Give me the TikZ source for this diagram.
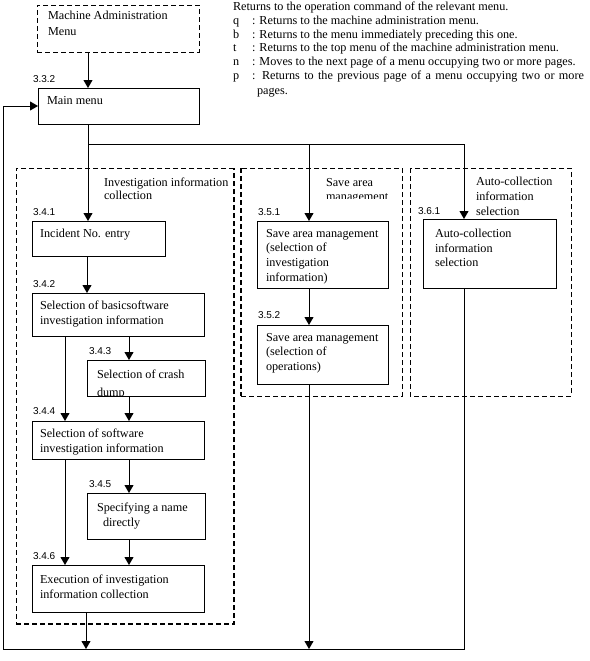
\documentclass[tikz,border=0pt]{standalone}
\usepackage{fontspec}
\setmainfont{Liberation Serif}
\newfontfamily\numfont{Liberation Sans}
\usetikzlibrary{arrows.meta}
\begin{document}
\begin{tikzpicture}[x=1pt,y=-1pt,
  every node/.style={inner sep=0pt, outer sep=0pt},
  txt/.style={anchor=north west, align=left, font=\fontsize{12.2}{14.7}\selectfont},
  lg/.style={anchor=base west, font=\fontsize{12.2}{14.7}\selectfont},
  num/.style={anchor=base west, font=\numfont\fontsize{10}{12}\selectfont},
  box/.style={draw, line width=0.9pt, anchor=north west},
  arr/.style={line width=0.9pt, -{Triangle[width=9pt,length=8pt]}},
  thindash/.style={line width=0.9pt, dash pattern=on 5pt off 3pt},
  thickdash/.style={line width=2pt, dash pattern=on 5pt off 3pt},
]
\useasboundingbox (0,0) rectangle (589,661);

% ---------- legend ----------
\node[lg] (lg0) at (233,11) {Returns to the operation command of the relevant menu.};
\node[lg] (lq) at (233,25) {q};
\node[lg] (lqT) at (252,25) {: Returns to the machine administration menu.};
\node[lg] (lb) at (233,39) {b};
\node[lg] (lbT) at (252,39) {: Returns to the menu immediately preceding this one.};
\node[lg] (lt) at (233,52) {t};
\node[lg] (ltT) at (252,52) {: Returns to the top menu of the machine administration menu.};
\node[lg] (ln) at (233,66) {n};
\node[lg] (lnT) at (252,66) {: Moves to the next page of a menu occupying two or more pages.};
\node[lg] (lp) at (233,80) {p};
\node[lg] (lpT) at (252,80) {\makebox[332pt][s]{: Returns to the previous page of a menu occupying two or more}};
\node[lg] (lp2) at (257,94) {pages.};

% ---------- group frames ----------
\draw[thindash] (234,168) -- (16,168) -- (16,624);
\draw[thickdash] (16,624) -- (234,624) -- (234,168);
\draw[thindash] (241,396) -- (402,396) -- (402,168) -- (241,168);
\draw[line width=1.4pt, dash pattern=on 5pt off 3pt] (241,168) -- (241,396);
\draw[thindash] (410,168) rectangle (571,396);

\node[txt, font=\fontsize{12.2}{12.5}\selectfont] (invT) at (104,178) {Investigation information\\collection};
\begin{scope}
\clip (300,170) rectangle (400,198);
\node[txt, font=\fontsize{12.2}{14.5}\selectfont] (saT) at (326,178) {Save area\\management};
\end{scope}
\node[txt, font=\fontsize{12.2}{15}\selectfont] (auT) at (476,177) {Auto-collection\\information\\selection};

% ---------- boxes ----------
\node[box, thindash, minimum width=162pt, minimum height=47pt] (adm) at (37,5) {};
\node[txt, font=\fontsize{12.2}{16}\selectfont] (admT) at (48,11) {Machine Administration\\Menu};

\node[box, minimum width=161pt, minimum height=36pt] (main) at (38,88) {};
\node[txt] (mainT) at (47,96) {Main menu};
\node[num] (n332) at (33,82) {3.3.2};

\node[box, minimum width=133pt, minimum height=35pt] (inc) at (32,221) {};
\node[txt] (incT) at (40,229) {Incident No. entry};
\node[num] (n341) at (33,215) {3.4.1};

\node[box, minimum width=172pt, minimum height=43pt] (sb) at (32,293) {};
\node[txt] (sbT) at (40,301) {Selection of basicsoftware\\investigation information};
\node[num] (n342) at (33,287) {3.4.2};

\node[box, minimum width=118pt, minimum height=36pt] (cd) at (87,360) {};
\begin{scope}
\clip (88,361) rectangle (204,395.5);
\node[txt, font=\fontsize{12.2}{18}\selectfont] (cdT) at (97,370) {Selection of crash\\dump};
\end{scope}
\node[num] (n343) at (89,354) {3.4.3};

\node[box, minimum width=172pt, minimum height=38pt] (ss) at (32,421) {};
\node[txt] (ssT) at (40,429) {Selection of software\\investigation information};
\node[num] (n344) at (33,414) {3.4.4};

\node[box, minimum width=118pt, minimum height=46pt] (sp) at (87,493) {};
\node[txt] (spT) at (97,503) {Specifying a name\\\hspace*{6pt}directly};
\node[num] (n345) at (89,487) {3.4.5};

\node[box, minimum width=172pt, minimum height=47pt] (ex) at (32,565) {};
\node[txt] (exT) at (40,575) {Execution of investigation\\information collection};
\node[num] (n346) at (33,559) {3.4.6};

\node[box, minimum width=131pt, minimum height=67pt] (sa1) at (257,221) {};
\node[txt] (sa1T) at (266,229) {Save area management\\(selection of\\investigation\\information)};
\node[num] (n351) at (258,215) {3.5.1};

\node[box, minimum width=131pt, minimum height=59pt] (sa2) at (257,325) {};
\node[txt] (sa2T) at (266,333) {Save area management\\(selection of\\operations)};
\node[num] (n352) at (258,318) {3.5.2};

\node[box, minimum width=133pt, minimum height=69pt] (au) at (423,219) {};
\node[txt] (auBT) at (435,229) {Auto-collection\\information\\selection};
\node[num] (n361) at (418,214) {3.6.1};

% ---------- tracks ----------
\coordinate (xM) at (88,0);
\coordinate (jn) at (88,144);
\coordinate (xS) at (309,0);
\coordinate (xU) at (464,0);
\coordinate (xI) at (87,0);
\coordinate (xL) at (65,0);
\coordinate (xR) at (129,0);
\coordinate (xE) at (86,0);
\coordinate (bot) at (3,649);

% ---------- connectors ----------
\draw[arr] (adm.south -| xM) -- (main.north -| xM);
\draw[arr] (main.south -| xM) -- (inc.north -| xM);
\draw[arr] (jn) -| (sa1.north -| xS);
\draw[arr] (jn) -| (au.north -| xU);

\draw[arr] (inc.south -| xI) -- (sb.north -| xI);
\draw[arr] (sb.south -| xR) -- (cd.north -| xR);
\draw[arr] (sb.south -| xL) -- (ss.north -| xL);
\draw[arr] (cd.south -| xR) -- (ss.north -| xR);
\draw[arr] (ss.south -| xR) -- (sp.north -| xR);
\draw[arr] (ss.south -| xL) -- (ex.north -| xL);
\draw[arr] (sp.south -| xR) -- (ex.north -| xR);
\draw[arr] (ex.south -| xE) -- (xE |- bot);

\draw[arr] (sa1.south -| xS) -- (sa2.north -| xS);
\draw[arr] (sa2.south -| xS) -- (xS |- bot);

\draw[arr] (au.south -| xU) -- (xU |- bot) -- (bot) -- (bot |- main.west) -- (main.west);
\end{tikzpicture}
\end{document}
